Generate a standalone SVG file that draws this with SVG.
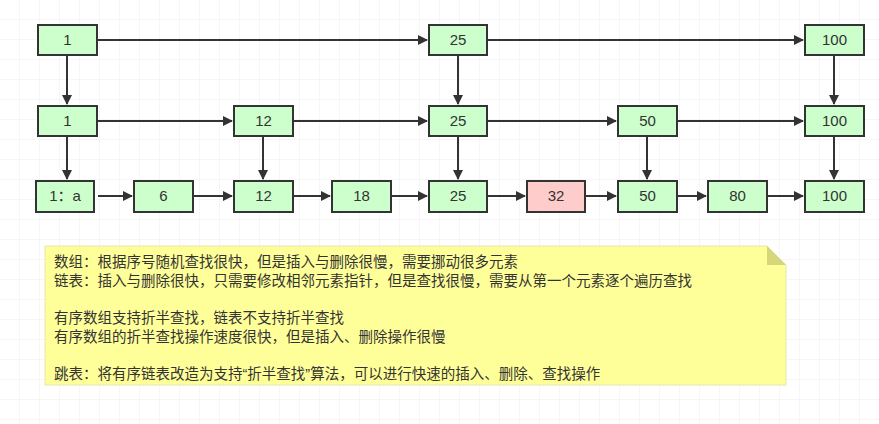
<svg xmlns="http://www.w3.org/2000/svg" width="879" height="424" viewBox="0 0 879 424">
<defs>
<pattern id="g" width="20" height="20" patternUnits="userSpaceOnUse"><path d="M20 0V20H0" fill="none" stroke="#ececec" stroke-width="1"/></pattern>
<marker id="a" markerWidth="10" markerHeight="10" refX="9" refY="5" orient="auto" markerUnits="userSpaceOnUse"><path d="M0 0L10 5L0 10Z" fill="#333"/></marker>
</defs>
<style>
.n rect{fill:#ccffcc;stroke:#333;stroke-width:2}
.n.r rect{fill:#ffcccc}
.n text{font-family:"Liberation Sans",sans-serif;font-size:15px;fill:#333;text-anchor:middle}
#c path{fill:none;stroke:#333;stroke-width:2;marker-end:url(#a)}
.t{font-family:"Liberation Sans","Noto Sans CJK SC",sans-serif;font-size:14.5px;fill:#333}
</style>
<rect width="879" height="424" fill="#fff"/>
<rect width="879" height="424" fill="url(#g)"/>
<g id="c">
<path d="M97 40H427"/><path d="M487 40H803"/>
<path d="M67 55V104"/><path d="M458 55V104"/><path d="M834 55V104"/>
<path d="M97 121H232"/><path d="M293 121H427"/><path d="M487 121H616"/><path d="M677 121H803"/>
<path d="M67 136V179"/><path d="M263 136V179"/><path d="M458 136V179"/><path d="M647 136V179"/><path d="M834 136V179"/>
<path d="M98 196H132"/><path d="M193 196H232"/><path d="M293 196H330"/><path d="M391 196H427"/><path d="M487 196H525"/><path d="M585 196H616"/><path d="M677 196H706"/><path d="M767 196H803"/>
</g>
<g id="n1a" class="n"><rect x="38" y="25" width="59" height="30"/><text x="67.5" y="45">1</text></g>
<g id="n25a" class="n"><rect x="429" y="25" width="58" height="30"/><text x="458" y="45">25</text></g>
<g id="n100a" class="n"><rect x="805" y="25" width="59" height="30"/><text x="834.5" y="45">100</text></g>
<g id="n1b" class="n"><rect x="38" y="106" width="59" height="30"/><text x="67.5" y="126">1</text></g>
<g id="n12b" class="n"><rect x="234" y="106" width="59" height="30"/><text x="263.5" y="126">12</text></g>
<g id="n25b" class="n"><rect x="429" y="106" width="58" height="30"/><text x="458" y="126">25</text></g>
<g id="n50b" class="n"><rect x="618" y="106" width="59" height="30"/><text x="647.5" y="126">50</text></g>
<g id="n100b" class="n"><rect x="805" y="106" width="59" height="30"/><text x="834.5" y="126">100</text></g>
<g id="n1c" class="n"><rect x="36" y="181" width="58" height="31"/><text x="65" y="201" style="font-family:'Liberation Sans','Noto Sans CJK SC',sans-serif">1：a</text></g>
<g id="n6c" class="n"><rect x="134" y="181" width="59" height="31"/><text x="163.5" y="201">6</text></g>
<g id="n12c" class="n"><rect x="234" y="181" width="59" height="31"/><text x="263.5" y="201">12</text></g>
<g id="n18c" class="n"><rect x="332" y="181" width="59" height="31"/><text x="361.5" y="201">18</text></g>
<g id="n25c" class="n"><rect x="429" y="181" width="58" height="31"/><text x="458" y="201">25</text></g>
<g id="n32c" class="n r"><rect x="527" y="181" width="58" height="31"/><text x="556" y="201">32</text></g>
<g id="n50c" class="n"><rect x="618" y="181" width="59" height="31"/><text x="647.5" y="201">50</text></g>
<g id="n80c" class="n"><rect x="708" y="181" width="59" height="31"/><text x="737.5" y="201">80</text></g>
<g id="n100c" class="n"><rect x="805" y="181" width="59" height="31"/><text x="834.5" y="201">100</text></g>
<g id="note">
<path d="M45 246H767L786 265V385H45Z" fill="#ffff99" stroke="#e6e6b0" stroke-width="1"/>
<path d="M767 246V265H786Z" fill="#d6d67a"/>
<text class="t" x="54" y="267">数组：根据序号随机查找很快，但是插入与删除很慢，需要挪动很多元素</text>
<text class="t" x="54" y="286">链表：插入与删除很快，只需要修改相邻元素指针，但是查找很慢，需要从第一个元素逐个遍历查找</text>
<text class="t" x="54" y="323">有序数组支持折半查找，链表不支持折半查找</text>
<text class="t" x="54" y="342">有序数组的折半查找操作速度很快，但是插入、删除操作很慢</text>
<text class="t" x="54" y="379">跳表：将有序链表改造为支持“折半查找”算法，可以进行快速的插入、删除、查找操作</text>
</g>
</svg>
